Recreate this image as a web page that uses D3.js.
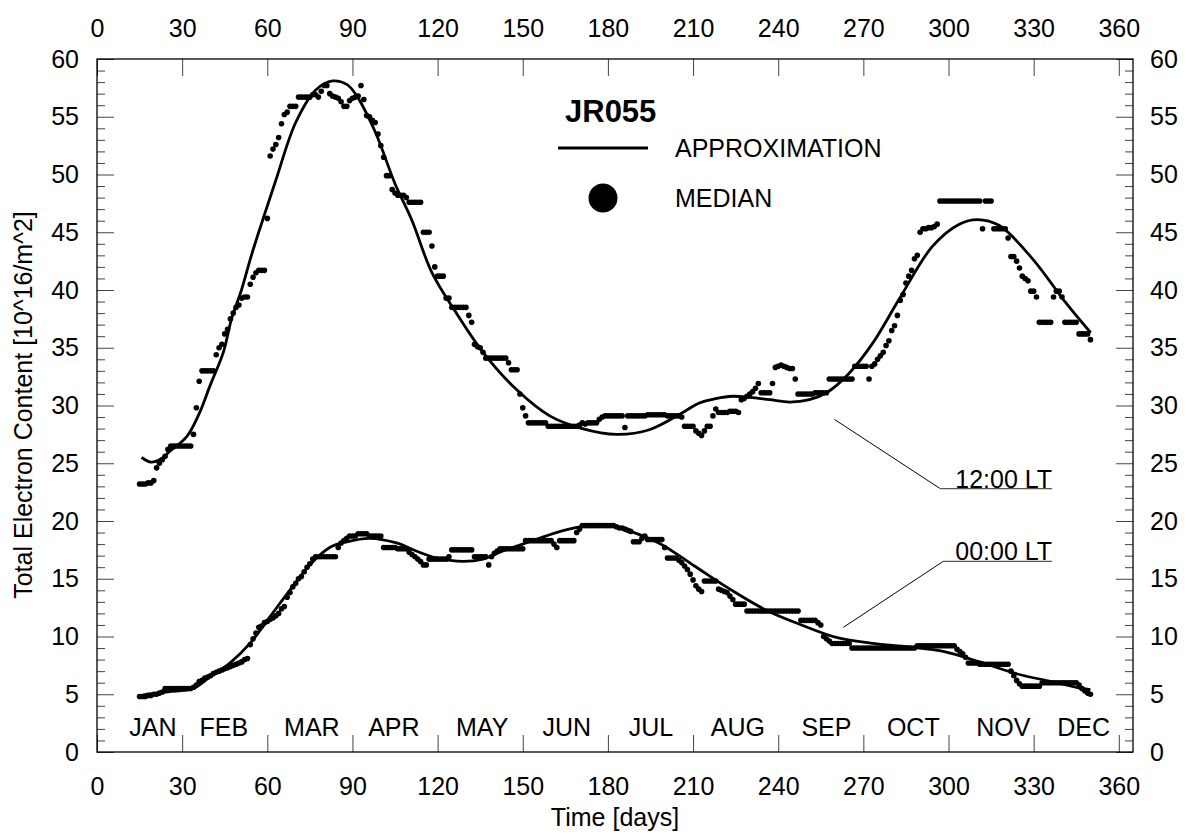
<!DOCTYPE html>
<html>
<head>
<meta charset="utf-8">
<script src="https://cdn.jsdelivr.net/npm/d3@7"></script>
<style>
  body { margin: 0; background: #fff; }
  svg text { font-family: "Liberation Sans", Arial, sans-serif; fill: #000; }
</style>
</head>
<body>
<div class="graph"></div>
<script>
// daily medians, first value is day 15
const firstDay = 15;
const medianNoon = [
  23.2,23.2,23.2,23.3,23.3,23.5,24.6,25.0,25.3,25.6,
  26.2,26.5,26.5,26.5,26.5,26.5,26.5,26.5,26.5,27.5,
  29.8,32.1,33.0,33.0,33.0,33.0,33.0,34.4,35.0,35.3,
  36.2,36.6,37.5,38.0,38.5,38.7,39.3,39.4,39.4,40.5,
  41.1,41.5,41.7,41.7,41.7,46.2,51.6,52.2,52.6,53.2,
  54.4,55.2,55.4,55.9,55.9,55.9,56.7,56.7,56.7,56.7,
  56.7,56.9,56.9,56.7,57.2,57.7,57.7,57.0,56.8,56.7,
  56.6,56.3,55.9,55.9,56.4,56.6,56.7,56.8,57.7,56.5,
  55.1,55.0,54.7,54.5,53.5,52.5,51.5,49.9,49.9,48.7,
  48.4,48.2,48.2,48.2,48.0,47.6,47.6,47.6,47.6,47.6,
  45.0,45.0,45.0,43.8,42.0,41.2,41.2,41.2,39.3,39.3,
  38.5,38.5,38.5,38.5,38.5,38.5,37.8,37.2,35.3,35.1,
  35.0,34.6,34.1,34.1,34.1,34.1,34.1,34.1,34.1,34.1,
  33.7,33.1,33.1,33.1,31.0,29.8,29.1,28.5,28.5,28.5,
  28.5,28.5,28.5,28.5,28.2,28.2,28.2,28.2,28.2,28.2,
  28.2,28.2,28.2,28.2,28.2,28.3,28.5,28.4,28.5,28.5,
  28.5,28.5,28.8,29.0,29.1,29.1,29.1,29.1,29.1,29.1,
  29.1,28.1,29.1,29.1,29.1,29.1,29.1,29.1,29.1,29.2,
  29.2,29.2,29.2,29.2,29.2,29.2,29.1,29.1,29.1,29.1,
  29.1,29.0,28.2,28.2,28.2,28.2,27.8,27.6,27.4,27.8,
  28.2,28.2,29.1,29.7,29.4,29.4,29.4,29.4,29.5,29.5,
  29.5,29.4,30.5,30.6,30.8,31.0,31.2,31.5,31.9,31.1,
  31.1,31.1,31.1,31.9,33.3,33.4,33.5,33.4,33.3,33.2,
  33.2,32.3,31.0,31.0,31.0,31.0,31.0,31.0,31.1,31.1,
  31.1,31.1,31.1,32.3,32.3,32.3,32.3,32.3,32.3,32.3,
  32.3,32.3,33.4,33.4,33.4,33.4,33.4,32.3,33.4,33.6,
  34.0,34.3,34.6,35.2,35.6,36.5,36.9,37.8,39.1,39.6,
  40.6,41.2,41.7,42.7,43.0,45.0,45.3,45.3,45.4,45.4,
  45.5,45.7,47.7,47.7,47.7,47.7,47.7,47.7,47.7,47.7,
  47.7,47.7,47.7,47.7,47.7,47.7,47.7,45.3,47.7,47.7,
  47.7,45.3,45.3,45.3,45.3,45.3,44.5,42.9,42.9,42.5,
  41.9,41.2,41.0,40.8,39.9,39.9,39.4,37.2,37.2,37.2,
  37.2,37.2,39.4,39.9,39.9,39.4,37.2,37.2,37.2,37.2,
  37.2,36.2,36.2,36.2,36.2,35.7
];
const medianMidnight = [
  4.8,4.8,4.8,4.9,4.9,5.0,5.0,5.1,5.2,5.5,
  5.5,5.5,5.5,5.5,5.5,5.5,5.5,5.5,5.5,5.6,
  5.8,6.1,6.2,6.4,6.5,6.6,6.8,6.9,7.0,7.1,
  7.2,7.3,7.4,7.5,7.6,7.7,7.8,8.0,8.1,9.3,
  9.8,10.3,10.8,10.9,11.2,11.3,11.5,11.6,11.8,12.0,
  12.4,12.6,13.4,13.8,14.3,14.6,15.0,15.2,15.6,16.0,
  16.3,16.7,16.9,16.9,16.9,16.9,16.9,16.9,16.9,16.9,
  17.7,18.1,18.3,18.5,18.7,18.7,18.7,18.9,18.9,18.9,
  18.9,18.7,18.7,18.7,18.7,18.7,17.7,17.7,17.7,17.7,
  17.7,17.6,17.6,17.6,17.6,17.3,17.1,16.9,16.7,16.5,
  16.2,16.2,16.7,16.7,16.7,16.7,16.7,16.7,16.7,16.9,
  17.5,17.5,17.5,17.5,17.5,17.5,17.5,17.5,16.9,16.9,
  16.9,16.9,16.9,16.2,16.9,17.2,17.4,17.6,17.6,17.6,
  17.6,17.6,17.6,17.6,17.6,17.6,18.3,18.3,18.3,18.3,
  18.3,18.3,18.3,18.3,18.3,18.3,18.0,17.7,18.3,18.3,
  18.3,18.3,18.3,18.3,19.0,19.3,19.6,19.6,19.6,19.6,
  19.6,19.6,19.6,19.6,19.6,19.6,19.6,19.6,19.5,19.4,
  19.4,19.3,19.2,19.1,18.2,18.2,18.2,18.5,18.7,18.4,
  18.4,18.4,18.4,18.4,18.4,17.7,16.8,16.8,16.8,16.8,
  16.6,16.4,16.1,15.8,15.4,14.9,14.4,14.1,13.9,14.8,
  14.8,14.8,14.8,14.8,14.1,14.0,13.9,13.8,13.5,13.2,
  12.8,12.8,12.8,12.8,12.2,12.2,12.2,12.2,12.2,12.2,
  12.2,12.2,12.2,12.2,12.2,12.2,12.2,12.2,12.2,12.2,
  12.2,12.2,12.2,11.4,11.4,11.4,11.4,11.4,11.4,11.2,
  11.0,10.0,9.8,9.6,9.4,9.4,9.4,9.4,9.4,9.4,
  9.4,9.0,9.0,9.0,9.0,9.0,9.0,9.0,9.0,9.0,
  9.0,9.0,9.0,9.0,9.0,9.0,9.0,9.0,9.0,9.0,
  9.0,9.0,9.0,9.0,9.2,9.2,9.2,9.2,9.2,9.2,
  9.2,9.2,9.2,9.2,9.2,9.2,9.2,9.2,8.9,8.7,
  8.5,8.2,7.7,7.7,7.7,7.7,7.6,7.6,7.6,7.6,
  7.6,7.6,7.6,7.6,7.6,7.6,7.6,7.0,6.6,6.2,
  5.9,5.7,5.7,5.7,5.7,5.7,5.7,5.7,6.0,6.0,
  6.0,6.0,6.0,6.0,6.0,6.0,6.0,6.0,6.0,6.0,
  6.0,5.8,5.5,5.3,5.1,5.0
];

// approximation curves [day, TEC]
const approxNoon = [
  [15.7,25.5],[19,25.1],[22,25.3],[26,26.1],[31.6,27.3],[36,29.3],[39.8,31.7],[44.5,34.6],
  [47.4,37.5],[50.9,40.0],[54.4,43.0],[58.3,46.0],[63,49.5],[70,54.5],[77,57.3],[83,58.1],
  [88,57.8],[91,57.0],[98,53.7],[105,49.2],[111,46.0],[118,41.5],[126.6,38.0],[136,34.6],
  [147.7,31.4],[159.5,29.1],[171,28.0],[183,27.5],[194.6,27.9],[206.4,29.4],[212,30.2],
  [218,30.6],[224,30.8],[230,30.7],[237,30.5],[244,30.3],[251,30.5],[257,31.1],[265,32.8],
  [273.3,35.4],[282.6,39.2],[294.4,43.8],[303.8,45.7],[310.2,46.1],[317.8,45.6],[329.6,42.7],
  [341.3,38.9],[350.1,36.3]
];
const approxMidnight = [
  [16.3,4.95],[25,5.2],[33.9,5.5],[39.8,6.5],[46.8,7.7],[53.9,9.4],[60.9,11.7],[67.9,14.0],
  [75,16.2],[82,17.7],[88,18.2],[96,18.5],[105.5,18.1],[112.5,17.4],[119.6,16.8],[129,16.5],
  [136,16.7],[143,17.4],[152.4,18.2],[161.8,19.0],[170,19.5],[178,19.7],[185.4,19.3],
  [197.9,18.1],[210.5,16.1],[223,14.1],[235.6,12.3],[248.2,11.0],[260.8,9.9],[273.4,9.4],
  [285.9,9.1],[298.5,8.7],[311,7.8],[323.6,6.8],[336.2,6.1],[346.9,5.5],[350,5.4]
];

const months = ['JAN','FEB','MAR','APR','MAY','JUN','JUL','AUG','SEP','OCT','NOV','DEC'];
const monthCenters = [19.7,44.7,75.7,104.6,135.7,165.5,195.2,225.8,257,287.6,319.3,347.6];
const dayTicks = d3.range(0, 361, 30);
const tecTicks = d3.range(0, 61, 5);
const tecMinorTicks = d3.range(0, 61, 1).filter((d) => d % 5 !== 0);

// leader lines: [point on curve, elbow, end of underline] in [day, TEC]
const labels = [
  { text: '12:00 LT', pts: [[259.8, 28.8], [297.1, 22.8], [336.5, 22.8]] },
  { text: '00:00 LT', pts: [[263, 10.8], [298.1, 16.5], [336.5, 16.5]] }
];

const w = 1186;
const h = 834;
const padding = { top: 59, right: 53, bottom: 82, left: 97 };

const xScale = d3.scaleLinear()
  .domain([0, 365])
  .range([padding.left, w - padding.right]);
const yScale = d3.scaleLinear()
  .domain([0, 60])
  .range([h - padding.bottom, padding.top]);

const svg = d3.select('.graph')
  .append('svg')
  .attr('width', w)
  .attr('height', h);

const fontSize = 25;

function styleAxis(g) {
  g.select('.domain').remove();
  g.selectAll('.tick line').attr('stroke', '#444').attr('stroke-width', 1);
  g.selectAll('.tick text').style('font-size', `${fontSize}px`).attr('fill', '#000');
}

const bottom = h - padding.bottom;
const right = w - padding.right;

svg.append('g')
  .attr('transform', `translate(0, ${bottom})`)
  .call(d3.axisBottom(xScale).tickValues(dayTicks).tickSize(-17).tickPadding(25))
  .call(styleAxis);

svg.append('g')
  .attr('transform', `translate(0, ${padding.top})`)
  .call(d3.axisTop(xScale).tickValues(dayTicks).tickSize(-17).tickPadding(22))
  .call(styleAxis);

svg.append('g')
  .attr('transform', `translate(${padding.left}, 0)`)
  .call(d3.axisLeft(yScale).tickValues(tecTicks).tickSize(-17).tickPadding(18))
  .call(styleAxis);

svg.append('g')
  .attr('transform', `translate(${padding.left}, 0)`)
  .call(d3.axisLeft(yScale).tickValues(tecMinorTicks).tickSize(-8).tickFormat(''))
  .call(styleAxis);

svg.append('g')
  .attr('transform', `translate(${right}, 0)`)
  .call(d3.axisRight(yScale).tickValues(tecTicks).tickSize(-17).tickPadding(17))
  .call(styleAxis);

svg.append('g')
  .attr('transform', `translate(${right}, 0)`)
  .call(d3.axisRight(yScale).tickValues(tecMinorTicks).tickSize(-8).tickFormat(''))
  .call(styleAxis);

svg.append('rect')
  .attr('x', padding.left)
  .attr('y', padding.top)
  .attr('width', right - padding.left)
  .attr('height', bottom - padding.top)
  .attr('fill', 'none')
  .attr('stroke', '#000')
  .attr('stroke-width', 1.3);

// month names
svg.selectAll('.month')
  .data(months)
  .enter()
  .append('text')
  .attr('class', 'month')
  .attr('x', (d, i) => xScale(monthCenters[i]))
  .attr('y', bottom - 16)
  .attr('text-anchor', 'middle')
  .style('font-size', `${fontSize}px`)
  .text((d) => d);

// axis titles
svg.append('text')
  .attr('x', 615)
  .attr('y', 826)
  .attr('text-anchor', 'middle')
  .style('font-size', `${fontSize}px`)
  .text('Time [days]');

svg.append('text')
  .attr('transform', 'rotate(-90)')
  .attr('x', -405)
  .attr('y', 32)
  .attr('text-anchor', 'middle')
  .style('font-size', `${fontSize}px`)
  .text('Total Electron Content [10^16/m^2]');

// medians
const dots = [];
medianNoon.forEach((v, i) => dots.push([firstDay + i, v]));
medianMidnight.forEach((v, i) => dots.push([firstDay + i, v]));

svg.append('g')
  .selectAll('circle')
  .data(dots)
  .enter()
  .append('circle')
  .attr('cx', (d) => xScale(d[0]))
  .attr('cy', (d) => yScale(d[1]))
  .attr('r', 2.8)
  .attr('fill', '#000');

// approximations
const line = d3.line()
  .x((d) => xScale(d[0]))
  .y((d) => yScale(d[1]))
  .curve(d3.curveCatmullRom);

[approxNoon, approxMidnight].forEach((series) => {
  svg.append('path')
    .datum(series)
    .attr('d', line)
    .attr('fill', 'none')
    .attr('stroke', '#000')
    .attr('stroke-width', 2.8);
});

// leader labels
const straight = d3.line()
  .x((d) => xScale(d[0]))
  .y((d) => yScale(d[1]));

labels.forEach((l) => {
  svg.append('path')
    .attr('d', straight(l.pts.slice(0, 2)))
    .attr('fill', 'none')
    .attr('stroke', '#000')
    .attr('stroke-width', 1);
  svg.append('path')
    .attr('d', straight(l.pts.slice(1)))
    .attr('fill', 'none')
    .attr('stroke', '#555')
    .attr('stroke-width', 1.2);
  svg.append('text')
    .attr('x', xScale(l.pts[2][0]))
    .attr('y', yScale(l.pts[2][1]) - 1)
    .attr('text-anchor', 'end')
    .style('font-size', `${fontSize}px`)
    .text(l.text);
});

// legend
const legend = svg.append('g').attr('class', 'legend');

legend.append('text')
  .attr('x', 565)
  .attr('y', 122)
  .style('font-size', '31px')
  .style('font-weight', 'bold')
  .text('JR055');

legend.append('line')
  .attr('x1', 558)
  .attr('x2', 648)
  .attr('y1', 148)
  .attr('y2', 148)
  .attr('stroke', '#000')
  .attr('stroke-width', 3);

legend.append('text')
  .attr('x', 675)
  .attr('y', 157)
  .style('font-size', `${fontSize}px`)
  .text('APPROXIMATION');

legend.append('circle')
  .attr('cx', 603)
  .attr('cy', 198)
  .attr('r', 14.5)
  .attr('fill', '#000');

legend.append('text')
  .attr('x', 675)
  .attr('y', 207)
  .style('font-size', `${fontSize}px`)
  .text('MEDIAN');
</script>
</body>
</html>
